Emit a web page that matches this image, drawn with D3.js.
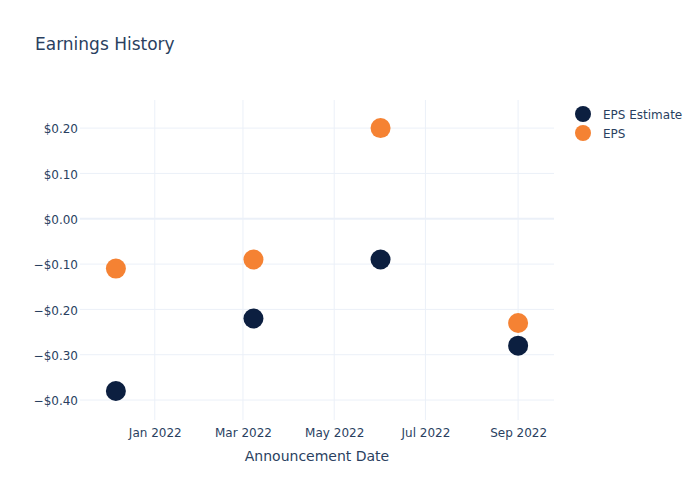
<!DOCTYPE html>
<html>
<head>
<meta charset="utf-8">
<script src="https://cdn.jsdelivr.net/npm/d3@7"></script>
<style>
  html, body { margin: 0; padding: 0; background: #fff; }
  svg { display: block; }
  text { font-family: "DejaVu Sans", Verdana, sans-serif; fill: #2a3f5f; }
</style>
</head>
<body>
<svg id="chart" width="700" height="500"></svg>
<script>
const dates = ["2021-12-06", "2022-03-08", "2022-06-01", "2022-09-01"];
const epsEstimate = [-0.38, -0.22, -0.09, -0.28];
const eps = [-0.11, -0.09, 0.20, -0.23];
const seriesNames = ["EPS Estimate", "EPS"];
const seriesColors = ["#0c1f40", "#f58233"];
const yTicks = [0.2, 0.1, 0.0, -0.1, -0.2, -0.3, -0.4];
const xTicks = ["2022-01-01", "2022-03-01", "2022-05-01", "2022-07-01", "2022-09-01"];
const xDomain = ["2021-11-12", "2022-09-25"];
const yDomain = [-0.444, 0.262];

const parse = d3.utcParse("%Y-%m-%d");
const svg = d3.select("#chart");
const L = 80, R = 554, T = 100, B = 420;

const x = d3.scaleUtc().domain(xDomain.map(parse)).range([L, R]);
const y = d3.scaleLinear().domain(yDomain).range([B, T]);

const grid = "#ebf0f8";
// vertical gridlines
svg.append("g").selectAll("line").data(xTicks.map(parse)).join("line")
  .attr("x1", d => x(d)).attr("x2", d => x(d))
  .attr("y1", T).attr("y2", B)
  .attr("stroke", grid).attr("stroke-width", 1);
// horizontal gridlines
svg.append("g").selectAll("line").data(yTicks).join("line")
  .attr("x1", L).attr("x2", R)
  .attr("y1", d => y(d)).attr("y2", d => y(d))
  .attr("stroke", grid).attr("stroke-width", d => d === 0 ? 2 : 1);

const fmt = v => (v < 0 ? "\u2212" : "") + "$" + Math.abs(v).toFixed(2);

// y axis
const yAxis = d3.axisLeft(y).tickValues(yTicks).tickFormat(fmt).tickSize(0).tickPadding(2);
const gy = svg.append("g").attr("transform", `translate(${L},0)`).call(yAxis);
gy.select(".domain").remove();
gy.selectAll("text").attr("font-size", 12).attr("fill", "#2a3f5f").attr("dy", "0.4em")
  .style("font-family", '"DejaVu Sans", Verdana, sans-serif');

// x axis
const xFmt = d3.utcFormat("%b %Y");
const xAxis = d3.axisBottom(x).tickValues(xTicks.map(parse)).tickFormat(xFmt).tickSize(0).tickPadding(8);
const gx = svg.append("g").attr("transform", `translate(0,${B})`).call(xAxis);
gx.select(".domain").remove();
gx.selectAll("text").attr("font-size", 12).attr("fill", "#2a3f5f")
  .style("font-family", '"DejaVu Sans", Verdana, sans-serif');

// axis title
svg.append("text").attr("x", (L + R) / 2).attr("y", 461)
  .attr("text-anchor", "middle").attr("font-size", 14).text("Announcement Date");

// title
svg.append("text").attr("x", 35).attr("y", 50).attr("font-size", 17).text("Earnings History");

// points
const series = [epsEstimate, eps];
series.forEach((vals, i) => {
  svg.append("g").selectAll("circle").data(vals).join("circle")
    .attr("cx", (d, j) => x(parse(dates[j])))
    .attr("cy", d => y(d))
    .attr("r", 10)
    .attr("fill", seriesColors[i]);
});

// legend
const lg = svg.append("g");
seriesNames.forEach((name, i) => {
  const yy = 114 + i * 19;
  lg.append("circle").attr("cx", 583).attr("cy", yy).attr("r", 8).attr("fill", seriesColors[i]);
  lg.append("text").attr("x", 603).attr("y", yy + 4.5).attr("font-size", 12).text(name);
});
</script>
</body>
</html>
